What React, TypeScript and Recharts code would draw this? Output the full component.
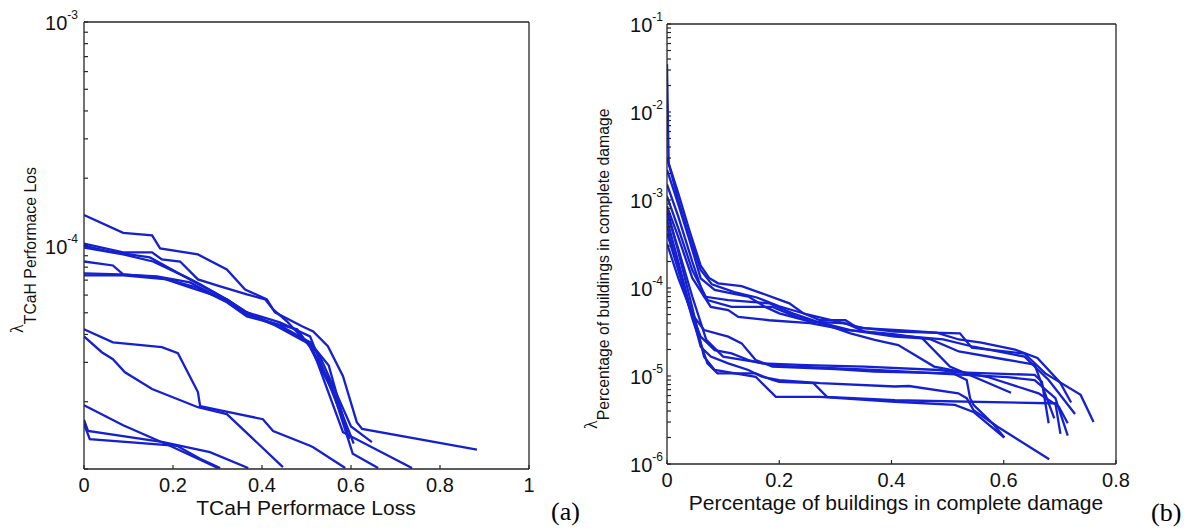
import { LineChart, Line, XAxis, YAxis } from "recharts";

// (a) TCaH performance loss vs annual rate, one array per curve: [loss, rate]
const tcahA = [[0, 1.37e-4], [0.088, 1.14e-4], [0.153, 1.11e-4], [0.171, 9.7e-5], [0.256, 9.12e-5], [0.321, 7.81e-5], [0.362, 6.36e-5], [0.411, 5.74e-5], [0.429, 5.02e-5], [0.49, 4.35e-5], [0.515, 4.13e-5], [0.548, 3.54e-5], [0.582, 2.6e-5], [0.613, 1.62e-5], [0.625, 1.51e-5], [0.883, 1.22e-5]];
const tcahB = [[0, 1.02e-4], [0.088, 9.31e-5], [0.153, 9.31e-5], [0.175, 8.66e-5], [0.216, 8.48e-5], [0.256, 7.05e-5], [0.306, 6.56e-5], [0.366, 6.04e-5], [0.407, 5.74e-5], [0.425, 5.18e-5], [0.456, 4.58e-5], [0.508, 3.54e-5], [0.55, 2.5e-5], [0.6, 1.4e-5], [0.606, 1.3e-5]];
const tcahC = [[0, 1.0e-4], [0.058, 9.4e-5], [0.148, 8.84e-5], [0.238, 7.05e-5], [0.321, 5.74e-5], [0.366, 5.02e-5], [0.44, 4.53e-5], [0.508, 3.92e-5], [0.591, 1.51e-5]];
const tcahD = [[0, 9.8e-5], [0.088, 9.12e-5], [0.155, 8.48e-5], [0.231, 7.2e-5], [0.261, 6.7e-5], [0.321, 5.74e-5], [0.366, 4.92e-5], [0.425, 4.44e-5], [0.508, 3.69e-5], [0.582, 1.46e-5], [0.737, 1.01e-5]];
const tcahE = [[0, 8.48e-5], [0.065, 8.14e-5], [0.088, 7.42e-5], [0.171, 7.2e-5], [0.238, 6.49e-5], [0.321, 5.74e-5], [0.366, 5.02e-5], [0.425, 4.44e-5], [0.508, 3.61e-5], [0.53, 3.2e-5], [0.6, 1.55e-5], [0.647, 1.32e-5]];
const tcahF = [[0, 7.5e-5], [0.081, 7.42e-5], [0.164, 7.27e-5], [0.238, 6.84e-5], [0.321, 5.62e-5], [0.366, 4.92e-5], [0.44, 4.4e-5], [0.508, 3.69e-5], [0.55, 2.9e-5], [0.596, 1.36e-5]];
const tcahG = [[0, 7.35e-5], [0.088, 7.35e-5], [0.187, 7.05e-5], [0.254, 6.49e-5], [0.321, 5.57e-5], [0.366, 4.82e-5], [0.418, 4.53e-5], [0.479, 4.22e-5], [0.508, 3.51e-5], [0.56, 2.2e-5], [0.604, 1.17e-5], [0.661, 1.01e-5]];
const tcahH = [[0, 4.22e-5], [0.065, 3.69e-5], [0.175, 3.51e-5], [0.211, 3.3e-5], [0.256, 2.21e-5], [0.261, 1.91e-5], [0.312, 1.82e-5], [0.402, 1.67e-5], [0.425, 1.48e-5], [0.508, 1.27e-5], [0.515, 1.25e-5], [0.587, 1.01e-5]];
const tcahI = [[0, 3.92e-5], [0.04, 3.33e-5], [0.065, 3.1e-5], [0.092, 2.71e-5], [0.153, 2.28e-5], [0.256, 1.89e-5], [0.321, 1.76e-5], [0.447, 1.02e-5]];
const tcahJ = [[0, 1.93e-5], [0.088, 1.57e-5], [0.193, 1.27e-5], [0.301, 1.01e-5]];
const tcahK = [[0, 1.66e-5], [0.009, 1.48e-5], [0.178, 1.32e-5], [0.283, 1.19e-5], [0.369, 1.01e-5]];
const tcahL = [[0, 1.59e-5], [0.013, 1.36e-5], [0.209, 1.27e-5], [0.261, 1.11e-5], [0.306, 1.01e-5]];
const tcahCurves = [tcahA, tcahB, tcahC, tcahD, tcahE, tcahF, tcahG, tcahH, tcahI, tcahJ, tcahK, tcahL];

// (b) share of buildings in complete damage vs annual rate
const bldgA = [[0, 3.0e-3], [0.02, 1.2e-3], [0.04, 4.5e-4], [0.06, 1.8e-4], [0.075, 1.3e-4], [0.091, 1.13e-4], [0.133, 1.05e-4], [0.169, 8.7e-5], [0.218, 6.7e-5], [0.242, 5.2e-5], [0.273, 4.3e-5], [0.318, 4.3e-5], [0.337, 3.6e-5], [0.406, 3.2e-5], [0.522, 3.05e-5], [0.543, 2.1e-5], [0.637, 1.8e-5], [0.674, 1.07e-5], [0.737, 6.1e-6], [0.76, 3.0e-6]];
const bldgB = [[0, 2.2e-3], [0.02, 9e-4], [0.04, 3.5e-4], [0.06, 1.29e-4], [0.085, 9.5e-5], [0.115, 8.7e-5], [0.145, 8.0e-5], [0.175, 6.1e-5], [0.2, 5.15e-5], [0.255, 4.14e-5], [0.318, 3.97e-5], [0.352, 3.19e-5], [0.406, 2.92e-5], [0.492, 2.61e-5], [0.546, 2.15e-5], [0.637, 1.66e-5], [0.68, 9.0e-6], [0.727, 3.7e-6]];
const bldgC = [[0, 1.5e-3], [0.02, 6.5e-4], [0.045, 2.0e-4], [0.066, 8.0e-5], [0.109, 7.3e-5], [0.182, 6.7e-5], [0.224, 5.15e-5], [0.267, 4.14e-5], [0.327, 3.33e-5], [0.406, 2.8e-5], [0.455, 2.68e-5], [0.504, 1.28e-5], [0.613, 6.45e-6]];
const bldgD = [[0, 1.1e-3], [0.02, 4.8e-4], [0.045, 1.6e-4], [0.072, 7.3e-5], [0.115, 6.1e-5], [0.188, 6.1e-5], [0.23, 4.7e-5], [0.273, 4.0e-5], [0.327, 3.05e-5], [0.37, 2.57e-5], [0.412, 2.25e-5], [0.476, 1.28e-5], [0.57, 9.8e-6], [0.662, 6.35e-6], [0.698, 4.5e-6], [0.714, 2.9e-6]];
const bldgE = [[0, 8.5e-4], [0.02, 3.8e-4], [0.045, 1.3e-4], [0.078, 6.1e-5], [0.109, 5.6e-5], [0.127, 4.7e-5], [0.182, 4.3e-5], [0.255, 4.0e-5], [0.321, 3.33e-5], [0.4, 3.0e-5], [0.47, 2.6e-5], [0.52, 1.9e-5], [0.6, 1.55e-5], [0.655, 1.35e-5], [0.675, 6.0e-6], [0.69, 3.3e-6]];
const bldgF = [[0, 3.5e-2], [0.003, 2.6e-3], [0.02, 1.0e-3], [0.04, 3.8e-4], [0.06, 1.6e-4], [0.08, 1.1e-4], [0.12, 9.0e-5], [0.16, 7.8e-5], [0.2, 6.2e-5], [0.25, 5.0e-5], [0.3, 4.2e-5], [0.35, 3.5e-5], [0.42, 3.3e-5], [0.48, 3.1e-5], [0.52, 2.6e-5], [0.56, 2.4e-5], [0.62, 2.0e-5], [0.66, 1.6e-5], [0.7, 8.5e-6], [0.72, 5.0e-6]];
const bldgG = [[0, 4.2e-4], [0.02, 1.6e-4], [0.04, 6e-5], [0.06, 2.8e-5], [0.085, 1.97e-5], [0.115, 1.81e-5], [0.145, 1.52e-5], [0.169, 1.39e-5], [0.248, 1.33e-5], [0.352, 1.28e-5], [0.485, 1.17e-5], [0.52, 1.1e-5], [0.655, 1.03e-5], [0.668, 8.6e-6], [0.68, 2.9e-6]];
const bldgH = [[0, 3.2e-4], [0.02, 1.3e-4], [0.045, 5e-5], [0.066, 3.33e-5], [0.109, 2.8e-5], [0.133, 2.35e-5], [0.158, 1.52e-5], [0.188, 1.28e-5], [0.3, 1.2e-5], [0.37, 1.12e-5], [0.51, 1.07e-5], [0.534, 9.0e-6], [0.54, 5.6e-6], [0.546, 4.7e-6], [0.58, 2.9e-6], [0.601, 2.0e-6]];
const bldgI = [[0, 6e-4], [0.02, 2.0e-4], [0.04, 6.5e-5], [0.06, 2.15e-5], [0.078, 1.66e-5], [0.109, 1.39e-5], [0.145, 1.17e-5], [0.169, 9.8e-6], [0.2, 9.0e-6], [0.273, 8.3e-6], [0.406, 7.6e-6], [0.431, 7.7e-6], [0.519, 6.35e-6], [0.534, 5.6e-6], [0.546, 4.1e-6], [0.58, 2.9e-6], [0.589, 2.65e-6], [0.681, 1.13e-6]];
const bldgJ = [[0, 5e-4], [0.02, 1.7e-4], [0.045, 4.5e-5], [0.072, 1.39e-5], [0.09, 1.07e-5], [0.158, 1.07e-5], [0.188, 9.0e-6], [0.2, 8.6e-6], [0.261, 8.3e-6], [0.285, 5.8e-6], [0.406, 5.3e-6], [0.68, 4.9e-6], [0.692, 4.9e-6], [0.701, 2.2e-6]];
const bldgK = [[0, 8e-4], [0.02, 2.6e-4], [0.045, 6e-5], [0.066, 1.66e-5], [0.085, 1.17e-5], [0.158, 9.8e-6], [0.194, 5.8e-6], [0.273, 5.8e-6], [0.406, 5.1e-6], [0.513, 4.7e-6], [0.546, 3.9e-6], [0.601, 2.0e-6]];
const bldgL = [[0, 7e-4], [0.02, 2.8e-4], [0.045, 8e-5], [0.07, 2.57e-5], [0.1, 1.66e-5], [0.2, 1.3e-5], [0.37, 1.17e-5], [0.607, 9.7e-6], [0.655, 9.0e-6], [0.692, 5.6e-6], [0.714, 2.1e-6]];
const bldgCurves = [bldgA, bldgB, bldgC, bldgD, bldgE, bldgF, bldgG, bldgH, bldgI, bldgJ, bldgK, bldgL];

const lossTicks = [0, 0.2, 0.4, 0.6, 0.8, 1];
const damageTicks = [0, 0.2, 0.4, 0.6, 0.8];
const lossExpLabels = [-4, -3];
const damageExpLabels = [-6, -5, -4, -3, -2, -1];

const BLUE = "#1521d0";
const AXIS = "#262626";
const SANS = "'Liberation Sans', Arial, sans-serif";
const SERIF = "'Liberation Serif', 'Times New Roman', serif";
const TICK_LEN = 4;

function logTicks(lo: number, hi: number) {
  const out: number[] = [];
  for (let e = lo; e < hi; e++) for (let m = 1; m < 10; m++) out.push(m * Math.pow(10, e));
  out.push(Math.pow(10, hi));
  return out;
}

function toPts(c: number[][]) {
  return c.map(([x, y]) => ({ x, y }));
}

// inward tick mark + 10^n label; gap = tickMargin used on the axis
const PowTick = (labels: number[], gap: number) => (props: any) => {
  const { x, y, payload } = props;
  const l = Math.log10(payload.value);
  const e = Math.round(l);
  const major = Math.abs(l - e) < 1e-6 && labels.includes(e);
  return (
    <g>
      <line x1={x + gap} x2={x + gap + TICK_LEN} y1={y} y2={y} stroke={AXIS} strokeWidth={1.2} />
      {major && (
        <text x={x} y={y + 8} textAnchor="end" fontSize={20} fill="#111" fontFamily={SANS}>
          10
          <tspan dy={-11} fontSize={12}>{`-${-e}`}</tspan>
        </text>
      )}
    </g>
  );
};

const NumTick = (gap: number) => (props: any) => {
  const { x, y, payload } = props;
  return (
    <g>
      <line x1={x} x2={x} y1={y - gap} y2={y - gap - TICK_LEN} stroke={AXIS} strokeWidth={1.2} />
      <text x={x} y={y} dy="0.71em" textAnchor="middle" fontSize={20} fill="#111" fontFamily={SANS}>
        {String(payload.value)}
      </text>
    </g>
  );
};

const TopTick = (props: any) => (
  <line x1={props.x} x2={props.x} y1={props.y} y2={props.y + TICK_LEN} stroke={AXIS} strokeWidth={1.2} />
);

const RightTick = (props: any) => (
  <line x1={props.x} x2={props.x - TICK_LEN} y1={props.y} y2={props.y} stroke={AXIS} strokeWidth={1.2} />
);

function Panel({
  curves,
  xTicks,
  xMax,
  yLo,
  yHi,
  labels,
  labelGap,
  width,
  margin,
}: {
  curves: number[][][];
  xTicks: number[];
  xMax: number;
  yLo: number;
  yHi: number;
  labels: number[];
  labelGap: number;
  width: number;
  margin: { top: number; right: number; bottom: number; left: number };
}) {
  const yTicks = logTicks(yLo, yHi);
  const yDomain = [Math.pow(10, yLo), Math.pow(10, yHi)];
  const axisLine = { stroke: AXIS, strokeWidth: 1.3 };
  return (
    <LineChart width={width} height={530} margin={margin}>
      <XAxis dataKey="x" type="number" domain={[0, xMax]} ticks={xTicks} interval={0} allowDataOverflow
        height={30} tickSize={0} tickMargin={9} axisLine={axisLine} tickLine={false} tick={NumTick(9)} />
      <XAxis xAxisId="top" orientation="top" type="number" domain={[0, xMax]} ticks={xTicks} interval={0}
        height={1} tickSize={0} tickMargin={0} axisLine={axisLine} tickLine={false} tick={TopTick} />
      <YAxis type="number" scale="log" domain={yDomain} ticks={yTicks} interval={0} allowDataOverflow
        width={40} tickSize={0} tickMargin={labelGap} axisLine={axisLine} tickLine={false}
        tick={PowTick(labels, labelGap)} />
      <YAxis yAxisId="right" orientation="right" type="number" scale="log" domain={yDomain} ticks={yTicks}
        interval={0} width={1} tickSize={0} tickMargin={0} axisLine={axisLine} tickLine={false} tick={RightTick} />
      {curves.map((c, i) => (
        <Line key={i} data={toPts(c)} dataKey="y" type="linear" stroke={BLUE} strokeWidth={2.3}
          dot={false} activeDot={false} isAnimationActive={false} />
      ))}
    </LineChart>
  );
}

export default function App() {
  return (
    <div style={{ position: "fixed", left: 0, top: 0, width: 1189, height: 530, background: "#fff" }}>
      <div style={{ position: "absolute", left: 0, top: 0 }}>
        <Panel curves={tcahCurves} xTicks={lossTicks} xMax={1} yLo={-5} yHi={-3} labels={lossExpLabels}
          labelGap={6} width={560} margin={{ top: 21, right: 30, bottom: 31, left: 44 }} />
      </div>
      <div style={{ position: "absolute", left: 560, top: 0 }}>
        <Panel curves={bldgCurves} xTicks={damageTicks} xMax={0.8} yLo={-6} yHi={-1} labels={damageExpLabels}
          labelGap={4} width={629} margin={{ top: 23, right: 72, bottom: 36, left: 67 }} />
      </div>
      <svg width={1189} height={530} style={{ position: "absolute", left: 0, top: 0, pointerEvents: "none" }}>
        <text x={306} y={515} textAnchor="middle" fontSize={21} fill="#111" fontFamily={SANS}>
          TCaH Performace Loss
        </text>
        <text x={896} y={510} textAnchor="middle" fontSize={21} fill="#111" fontFamily={SANS}>
          Percentage of buildings in complete damage
        </text>
        <text transform="rotate(-90)" x={-333} y={23} fill="#111">
          <tspan fontSize={18} fontFamily={SERIF}>λ</tspan>
          <tspan dy={13} fontSize={15.8} fontFamily={SANS}>TCaH Performace Los</tspan>
        </text>
        <text transform="rotate(-90)" x={-429} y={597} fill="#111">
          <tspan fontSize={18} fontFamily={SERIF}>λ</tspan>
          <tspan dy={12} fontSize={15.8} fontFamily={SANS}>Percentage of buildings in complete damage</tspan>
        </text>
        <text x={551} y={520} fontSize={26} fill="#000" fontFamily={SERIF}>(a)</text>
        <text x={1151} y={521} fontSize={26} fill="#000" fontFamily={SERIF}>(b)</text>
      </svg>
    </div>
  );
}
